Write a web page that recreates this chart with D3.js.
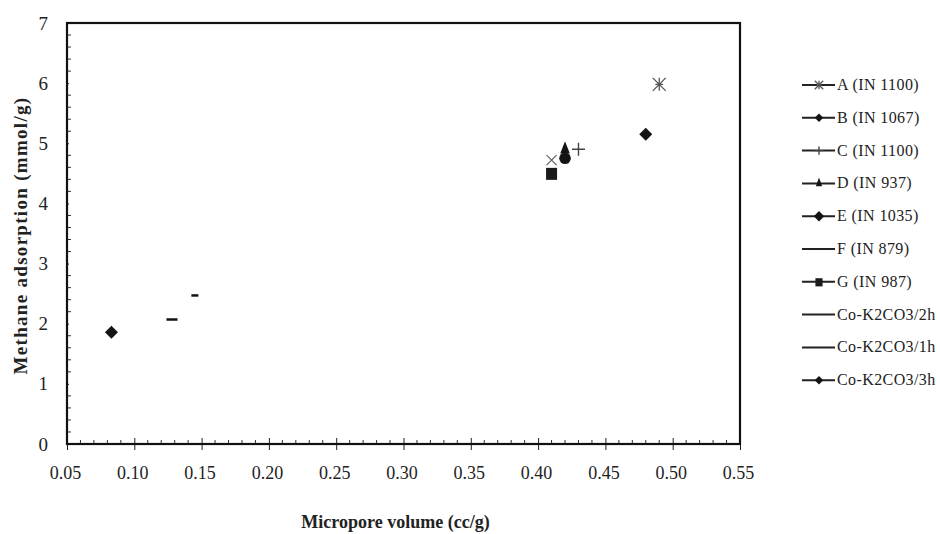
<!DOCTYPE html>
<html>
<head>
<meta charset="utf-8">
<script src="https://cdn.jsdelivr.net/npm/d3@7/dist/d3.min.js"></script>
<style>
  html, body { margin: 0; padding: 0; background: #fff; }
  svg { display: block; }
  text { font-family: "Liberation Serif", "Times New Roman", serif; fill: #222; }
</style>
</head>
<body>
<svg id="chart" width="940" height="534"></svg>
<script>
// Samples, one point each (micropore volume vs methane uptake)
const seriesNames = [
  "A (IN 1100)", "B (IN 1067)", "C (IN 1100)", "D (IN 937)", "E (IN 1035)",
  "F (IN 879)", "G (IN 987)", "Co-K2CO3/2h", "Co-K2CO3/1h", "Co-K2CO3/3h"
];
const seriesMarkers = [
  "asterisk", "diamond", "plus", "triangle", "circle",
  "cross", "square", "dash", "dash", "diamond"
];
const microporeVolume = [0.49, 0.48, 0.43, 0.42, 0.42, 0.41, 0.41, 0.145, 0.128, 0.083];
const methaneAdsorption = [5.98, 5.15, 4.9, 4.9, 4.75, 4.72, 4.5, 2.47, 2.07, 1.86];

const xTicks = [0.05, 0.10, 0.15, 0.20, 0.25, 0.30, 0.35, 0.40, 0.45, 0.50, 0.55];
const yTicks = [0, 1, 2, 3, 4, 5, 6, 7];

const svg = d3.select("#chart");
const x = d3.scaleLinear().domain([0.05, 0.55]).range([67, 740]);
const y = d3.scaleLinear().domain([0, 7]).range([444, 23]);

// minor ticks
const xMinor = d3.range(5, 56).map(v => v / 100).filter(v => !xTicks.some(t => Math.abs(t - v) < 1e-9));
const yMinor = d3.range(0, 36).map(v => v / 5).filter(v => !yTicks.some(t => Math.abs(t - v) < 1e-9));

const g = svg.append("g");

g.selectAll(".xminor").data(xMinor).join("line")
  .attr("x1", d => x(d)).attr("x2", d => x(d))
  .attr("y1", y(0)).attr("y2", y(0) - 4)
  .attr("stroke", "#333").attr("stroke-width", 1);
g.selectAll(".yminor").data(yMinor).join("line")
  .attr("x1", x(0.05)).attr("x2", x(0.05) + 4)
  .attr("y1", d => y(d)).attr("y2", d => y(d))
  .attr("stroke", "#333").attr("stroke-width", 1);

// axes via d3 generators
const xAxis = d3.axisBottom(x).tickValues(xTicks).tickSizeInner(6).tickSizeOuter(0)
  .tickFormat(d3.format(".2f")).tickPadding(16);
const gx = svg.append("g").attr("transform", `translate(0,${y(0)})`).call(xAxis);
gx.select(".domain").remove();
gx.selectAll(".tick line").attr("y1", -6).attr("stroke", "#222");
gx.selectAll(".tick text")
  .style("font-family", "'Liberation Serif', serif").style("font-size", "18px")
  .attr("fill", "#222").attr("dx", "-2");

const yAxis = d3.axisLeft(y).tickValues(yTicks).tickSizeInner(5).tickSizeOuter(0)
  .tickFormat(d3.format("d")).tickPadding(14);
const gy = svg.append("g").attr("transform", `translate(${x(0.05)},0)`).call(yAxis);
gy.select(".domain").remove();
gy.selectAll(".tick line").attr("x2", 2).attr("stroke", "#222");
gy.selectAll(".tick text")
  .style("font-family", "'Liberation Serif', serif").style("font-size", "19px")
  .attr("fill", "#222");

// plot frame
svg.append("rect")
  .attr("x", x(0.05)).attr("y", y(7))
  .attr("width", x(0.55) - x(0.05)).attr("height", y(0) - y(7))
  .attr("fill", "none").attr("stroke", "#111").attr("stroke-width", 2.2);

// axis titles
svg.append("text")
  .attr("x", (x(0.05) + x(0.55)) / 2 - 8).attr("y", 528)
  .attr("text-anchor", "middle")
  .style("font-size", "18px").style("font-weight", "bold")
  .text("Micropore volume (cc/g)");
svg.append("text")
  .attr("transform", `translate(27,${(y(0) + y(7)) / 2 + 2}) rotate(-90)`)
  .attr("text-anchor", "middle")
  .style("font-size", "19px").style("font-weight", "bold").style("letter-spacing", "1.3px")
  .text("Methane adsorption (mmol/g)");

// marker drawing
function drawMarker(sel, type, cx, cy, scale) {
  const s = scale || 1;
  const col = "#141414";
  if (type === "diamond") {
    const r = 6.5 * s;
    sel.append("path").attr("d", `M${cx},${cy - r}L${cx + r},${cy}L${cx},${cy + r}L${cx - r},${cy}Z`).attr("fill", col);
  } else if (type === "square") {
    const r = 5.5 * s;
    sel.append("rect").attr("x", cx - r).attr("y", cy - r).attr("width", 2 * r).attr("height", 2 * r + 1).attr("fill", "#1a1a1a");
  } else if (type === "triangle") {
    const r = 6 * s;
    sel.append("path").attr("d", `M${cx},${cy - r - 2}L${cx + r * 0.8},${cy + r * 0.7}L${cx - r * 0.8},${cy + r * 0.7}Z`).attr("fill", col);
  } else if (type === "circle") {
    sel.append("circle").attr("cx", cx).attr("cy", cy).attr("r", 5.8 * s).attr("fill", col);
  } else if (type === "plus") {
    const r = 6.5 * s;
    sel.append("path").attr("d", `M${cx - r},${cy}H${cx + r}M${cx},${cy - r}V${cy + r}`)
      .attr("stroke", "#444").attr("stroke-width", 1.4).attr("fill", "none");
  } else if (type === "asterisk") {
    const r = 6.5 * s;
    sel.append("path").attr("d", `M${cx - r},${cy - r}L${cx + r},${cy + r}M${cx + r},${cy - r}L${cx - r},${cy + r}M${cx},${cy - r}V${cy + r}M${cx - r * 0.6},${cy}H${cx + r * 0.6}`)
      .attr("stroke", "#555").attr("stroke-width", 1.3).attr("fill", "none");
  } else if (type === "cross") {
    const r = 5 * s;
    sel.append("path").attr("d", `M${cx - r},${cy - r}L${cx + r},${cy + r}M${cx + r},${cy - r}L${cx - r},${cy + r}`)
      .attr("stroke", "#666").attr("stroke-width", 1.3).attr("fill", "none");
  } else if (type === "dash") {
    sel.append("path").attr("d", `M${cx - 5 * s},${cy}H${cx + 5 * s}`)
      .attr("stroke", "#111").attr("stroke-width", 2.5).attr("fill", "none");
  }
}

// data points (drawn back-to-front so overlapping marks layer sensibly)
const points = seriesNames.map((n, i) => ({ name: n, marker: seriesMarkers[i], vx: microporeVolume[i], vy: methaneAdsorption[i] }));
const pg = svg.append("g");
const order = [5, 0, 1, 2, 4, 3, 6, 7, 8, 9];
order.forEach(i => {
  const p = points[i];
  const sc = p.name === "Co-K2CO3/1h" ? 1.1 : (p.name === "Co-K2CO3/2h" ? 0.7 : 1);
  drawMarker(pg, p.marker, x(p.vx), y(p.vy), sc);
});

// legend
const legendX = 802, legendY0 = 85, legendStep = 32.8;
const legendMarkers = ["asterisk", "diamond", "plus", "triangle", "diamond", null, "square", null, null, "diamond"];
const lg = svg.append("g");
points.forEach((p, i) => {
  const ly = legendY0 + i * legendStep;
  const row = lg.append("g");
  row.append("line").attr("x1", legendX).attr("x2", legendX + 33)
    .attr("y1", ly).attr("y2", ly).attr("stroke", "#222").attr("stroke-width", 2);
  const lm = legendMarkers[i];
  if (lm) drawMarker(row, lm, legendX + 17, ly, lm === "diamond" && i === 4 ? 0.8 : 0.65);
  row.append("text").attr("x", legendX + 35).attr("y", ly + 5)
    .style("font-size", "16px").style("letter-spacing", "0.4px")
    .attr("fill", i >= 7 ? "#444" : "#222")
    .text(p.name);
});
</script>
</body>
</html>
